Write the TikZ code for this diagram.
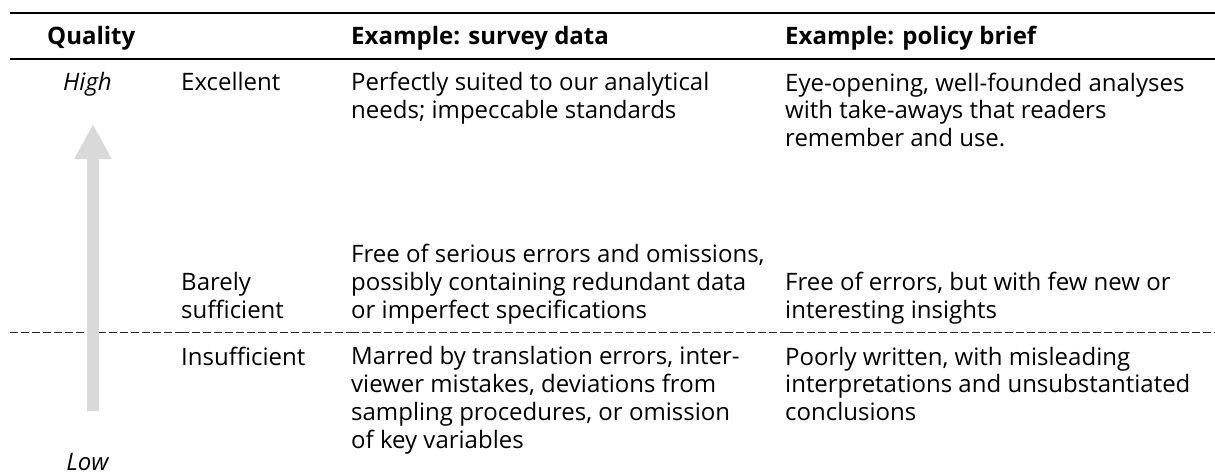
\documentclass[tikz,border=0pt]{standalone}
\usepackage{fontspec}
\setmainfont{Open Sans}
\usetikzlibrary{arrows.meta}
\definecolor{arrowgray}{HTML}{D9D9D9}

\begin{document}
\begin{tikzpicture}[x=1pt,y=-1pt,
  cell/.style={anchor=base west,inner sep=0pt,align=left,
    font=\fontsize{24}{27.7}\selectfont},
  headcell/.style={cell,font=\fontsize{24}{27.7}\selectfont\bfseries},
  level/.style={anchor=base,inner sep=0pt,
    font=\fontsize{24}{27.7}\selectfont\itshape},
  rule/.style={line width=2pt},
  midrule/.style={line width=1pt,black!85,dash pattern=on 8pt off 3pt}]
  \useasboundingbox (0,0) rectangle (1215,476);

  % rules
  \coordinate (topl) at (10,12.7);
  \coordinate (topr) at (1215,12.7);
  \coordinate (headl) at (10,59.3);
  \coordinate (headr) at (1215,59.3);
  \draw[rule] (topl) -- (topr);
  \draw[rule] (headl) -- (headr);

  % dashed rule, one piece per column
  \coordinate (mid0) at (10,332);
  \coordinate (mid1) at (181,332);
  \coordinate (mid2) at (351,332);
  \coordinate (mid3) at (785,332);
  \coordinate (mid4) at (1215,332);
  \foreach \a/\b in {0/1,1/2,2/3,3/4}
    \draw[midrule] (mid\a) -- (mid\b);

  % header
  \node[headcell] (quality) at (47,45) {Quality};
  \node[headcell] (hsurvey) at (351,45) {Example: survey data};
  \node[headcell] (hpolicy) at (785,45) {Example: policy brief};

  % quality axis
  \node[level] (high) at (87.5,91) {High};
  \node[level] (low) at (87.5,470) {Low};
  \coordinate (arrowbot) at (93,411);
  \coordinate (arrowtop) at (93,124);
  \draw[arrowgray,line width=12pt,-{Triangle[width=35pt,length=35pt]}]
    (arrowbot) -- (arrowtop);

  % rows (nodes sit on the baseline of their last line)
  \node[cell] (excellent) at (181,91) {Excellent};
  \node[cell] (surveyA) at (351,118.7) {Perfectly suited to our analytical\\needs; impeccable standards};
  \node[cell] (policyA) at (785,146.4) {Eye-opening, well-founded analyses\\with take-aways that readers\\remember and use.};

  \node[cell] (barely) at (181,318) {Barely\\sufficient};
  \node[cell] (surveyB) at (351,318) {Free of serious errors and omissions,\\possibly containing redundant data\\or imperfect specifications};
  \node[cell] (policyB) at (785,318) {Free of errors, but with few new or\\interesting insights};

  \node[cell] (insufficient) at (181,365) {Insufficient};
  \node[cell] (surveyC) at (351,448) {Marred by translation errors, inter-\\viewer mistakes, deviations from\\sampling procedures, or omission\\of key variables};
  \node[cell] (policyC) at (785,420.4) {Poorly written, with misleading\\interpretations and unsubstantiated\\conclusions};
\end{tikzpicture}
\end{document}
